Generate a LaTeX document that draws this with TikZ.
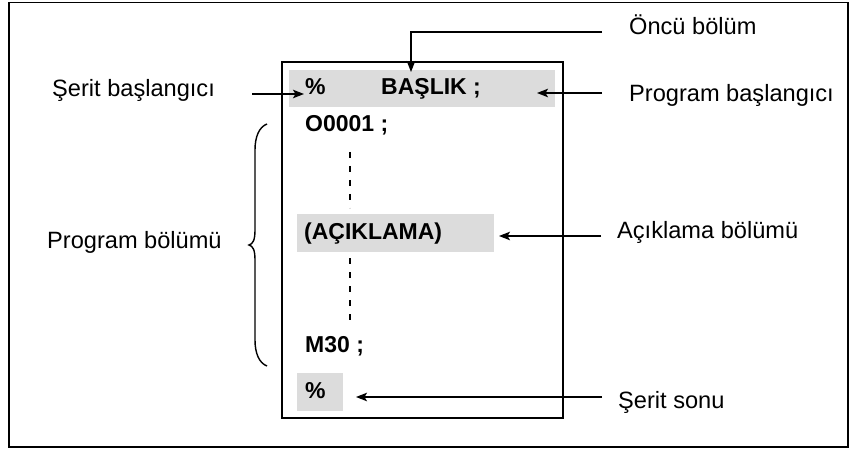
\documentclass[tikz,border=0pt]{standalone}
\usepackage{fontspec}
\setmainfont{Liberation Sans}
\usetikzlibrary{arrows.meta}
\definecolor{bandgray}{HTML}{DCDCDC}
\tikzset{
  lbl/.style={anchor=base west, inner sep=0pt, font=\fontsize{23.6}{28}\selectfont},
  code/.style={anchor=base west, inner sep=0pt, font=\fontsize{23}{28}\selectfont\bfseries},
  band/.style={fill=bandgray, draw=none},
  arr/.style={line width=1.4pt, -{Stealth[length=11pt,width=8.5pt,inset=2.5pt]}},
  frame/.style={line width=1.6pt},
  dotline/.style={line width=2pt, dash pattern=on 6pt off 8pt}
}
\begin{document}
\begin{tikzpicture}[x=1pt,y=-1pt]
\useasboundingbox (0,0) rectangle (854,449);
% outer frame
\draw[frame] (9,2.5) rectangle (848,447);
% gray bands
\path[band] (289,70) rectangle (555,107);
\path[band] (297,214) rectangle (494,252);
\path[band] (297,373) rectangle (343,411);
% program box
\draw[frame] (282,62) rectangle (563,418);
% box contents
\node[code] (pctA) at (305,95) {\%};
\node[code] (head) at (381,95) {BAŞLIK ;};
\node[code] (onum) at (305,132) {O0001 ;};
\node[code] (comm) at (304,240) {(AÇIKLAMA)};
\node[code] (mend) at (305,352) {M30 ;};
\node[code] (pctB) at (305,398) {\%};
% dashed continuation lines
\coordinate (d1a) at (350,152);
\coordinate (d1b) at (350,208);
\coordinate (d2a) at (350,258);
\coordinate (d2b) at (350,320);
\draw[dotline] (d1a) -- (d1b);
\draw[dotline] (d2a) -- (d2b);
% labels
\node[lbl] (oncu) at (629,35) {Öncü bölüm};
\node[lbl] (serb) at (52,96.7) {Şerit başlangıcı};
\node[lbl] (prgb) at (629,102) {Program başlangıcı};
\node[lbl] (prgbol) at (47,248) {Program bölümü};
\node[lbl] (acik) at (617,238) {Açıklama bölümü};
\node[lbl] (sers) at (618,408) {Şerit sonu};
% arrow coordinates
\coordinate (oncuS) at (602,32);
\coordinate (oncuC) at (411,32);
\coordinate (oncuT) at (411,72);
\coordinate (serbS) at (252,94);
\coordinate (serbT) at (304,94);
\coordinate (prgbS) at (602,93);
\coordinate (prgbT) at (537,93);
\coordinate (acikS) at (601,236);
\coordinate (acikT) at (499,236);
\coordinate (sersS) at (602,397);
\coordinate (sersT) at (356,397);
\draw[arr] (oncuS) -- (oncuC) -- (oncuT);
\draw[arr] (serbS) -- (serbT);
\draw[arr] (prgbS) -- (prgbT);
\draw[arr] (acikS) -- (acikT);
\draw[arr] (sersS) -- (sersT);
% brace
\coordinate (brT) at (267,124);
\coordinate (brM) at (249,245);
\coordinate (brB) at (267,366);
\draw[line width=1.4pt] (brT) .. controls (259,127) and (255,137) .. (255,150)
  -- (255,230) .. controls (255,240) and (253,244) .. (brM)
  .. controls (253,246) and (255,250) .. (255,260)
  -- (255,340) .. controls (255,353) and (259,363) .. (brB);
\end{tikzpicture}
\end{document}
